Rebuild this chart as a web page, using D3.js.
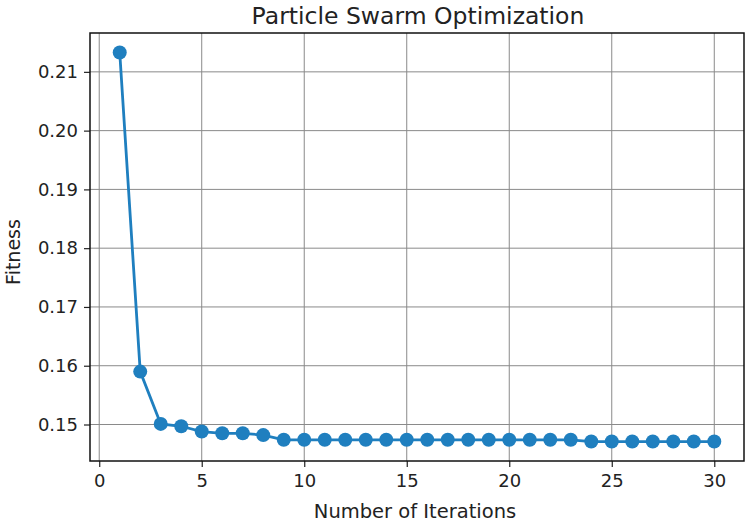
<!DOCTYPE html>
<html>
<head>
<meta charset="utf-8">
<script src="https://cdn.jsdelivr.net/npm/d3@7"></script>
<style>
  body { margin: 0; background: #fff; }
  svg text { font-family: "DejaVu Sans", sans-serif; fill: #222; }
</style>
</head>
<body>
<div id="chart"></div>
<script>
// data
const iterations = d3.range(1, 31);
const fitness = [
  0.2133, 0.1590, 0.1501, 0.1497, 0.1488, 0.1485, 0.1485, 0.1482, 0.1474, 0.1474,
  0.1474, 0.1474, 0.1474, 0.1474, 0.1474, 0.1474, 0.1474, 0.1474, 0.1474, 0.1474,
  0.1474, 0.1474, 0.1474, 0.1471, 0.1471, 0.1471, 0.1471, 0.1471, 0.1471, 0.1471
];
const xTicks = [0, 5, 10, 15, 20, 25, 30];
const yTicks = [0.15, 0.16, 0.17, 0.18, 0.19, 0.20, 0.21];

const width = 750, height = 522;
const margin = {top: 33, right: 6, bottom: 61, left: 90};

const svg = d3.select("#chart").append("svg")
  .attr("width", width)
  .attr("height", height);

// matplotlib style 5% padding
const xPad = (d3.max(iterations) - d3.min(iterations)) * 0.05;
const yPad = (d3.max(fitness) - d3.min(fitness)) * 0.05;

const x = d3.scaleLinear()
  .domain([d3.min(iterations) - xPad, d3.max(iterations) + xPad])
  .range([margin.left, width - margin.right]);
const y = d3.scaleLinear()
  .domain([d3.min(fitness) - yPad, d3.max(fitness) + yPad])
  .range([height - margin.bottom, margin.top]);

// grid
const grid = svg.append("g").attr("stroke", "#8a8a8a").attr("stroke-width", 1);
grid.selectAll(".gx").data(xTicks).enter().append("line")
  .attr("x1", d => x(d)).attr("x2", d => x(d))
  .attr("y1", margin.top).attr("y2", height - margin.bottom);
grid.selectAll(".gy").data(yTicks).enter().append("line")
  .attr("x1", margin.left).attr("x2", width - margin.right)
  .attr("y1", d => y(d)).attr("y2", d => y(d));

// axes
const xAxis = svg.append("g")
  .attr("transform", `translate(0,${height - margin.bottom})`)
  .call(d3.axisBottom(x).tickValues(xTicks).tickSize(6).tickPadding(7).tickFormat(d3.format("d")));
const yAxis = svg.append("g")
  .attr("transform", `translate(${margin.left},0)`)
  .call(d3.axisLeft(y).tickValues(yTicks).tickSize(6).tickPadding(6).tickFormat(d3.format(".2f")));
[xAxis, yAxis].forEach(a => {
  a.select(".domain").remove();
  a.selectAll("text").style("font-size", "18px").attr("fill", "#222");
  a.selectAll("line").attr("stroke", "#222").attr("stroke-width", 1.2);
});

// frame
svg.append("rect")
  .attr("x", margin.left).attr("y", margin.top)
  .attr("width", width - margin.right - margin.left)
  .attr("height", height - margin.bottom - margin.top)
  .attr("fill", "none").attr("stroke", "#111").attr("stroke-width", 1.5);

// line + markers
const line = d3.line()
  .x((d, i) => x(iterations[i]))
  .y(d => y(d));
svg.append("path")
  .datum(fitness)
  .attr("d", line)
  .attr("fill", "none")
  .attr("stroke", "#1f7fbf")
  .attr("stroke-width", 2.8);
svg.selectAll(".pt").data(fitness).enter().append("circle")
  .attr("cx", (d, i) => x(iterations[i]))
  .attr("cy", d => y(d))
  .attr("r", 7)
  .attr("fill", "#1f7fbf");

// labels
svg.append("text")
  .attr("x", (margin.left + width - margin.right) / 2 + 1)
  .attr("y", 24)
  .attr("text-anchor", "middle")
  .style("font-size", "23.5px")
  .text("Particle Swarm Optimization");
svg.append("text")
  .attr("x", (margin.left + width - margin.right) / 2 - 2)
  .attr("y", 518)
  .attr("text-anchor", "middle")
  .style("font-size", "19.5px")
  .text("Number of Iterations");
svg.append("text")
  .attr("transform", `translate(20,252) rotate(-90)`)
  .attr("text-anchor", "middle")
  .style("font-size", "19px")
  .text("Fitness");
</script>
</body>
</html>
